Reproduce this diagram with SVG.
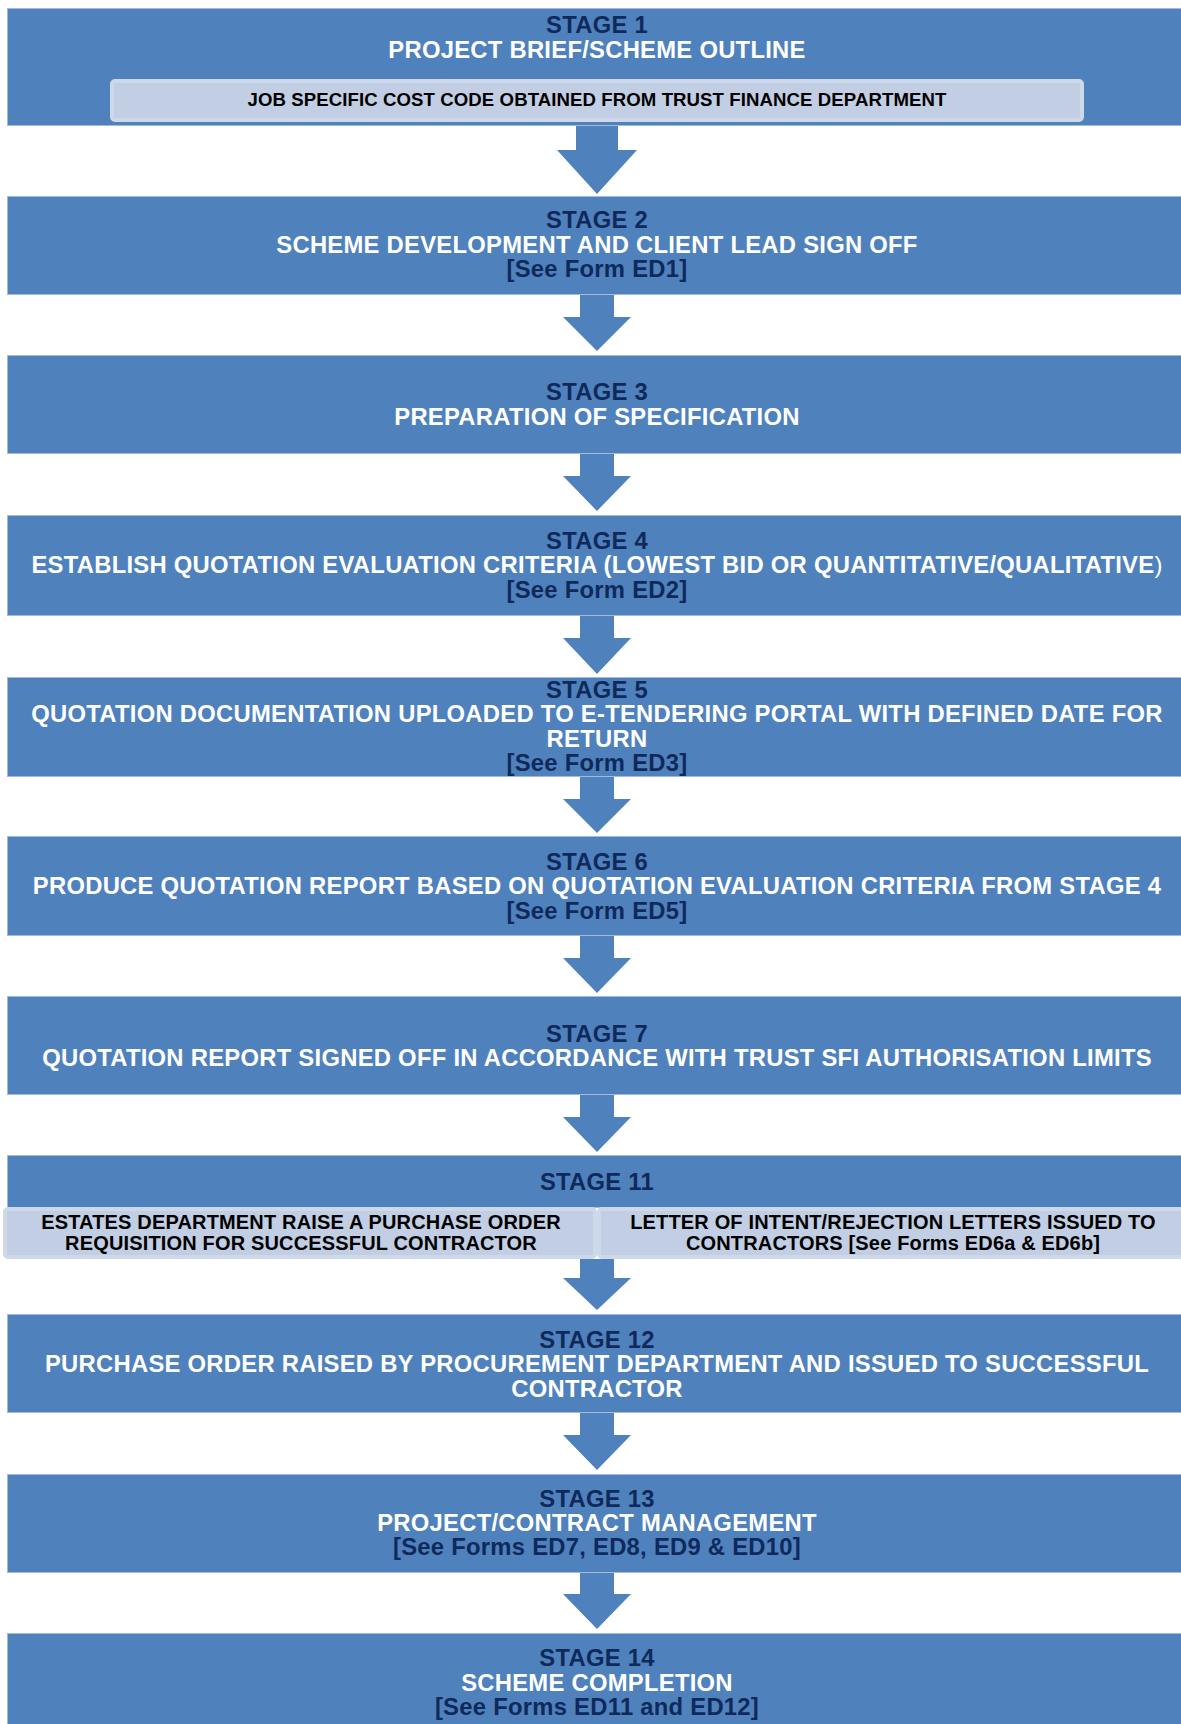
<svg xmlns="http://www.w3.org/2000/svg" width="1181" height="1724" viewBox="0 0 1181 1724">
<style>
.box{fill:#4F81BD;stroke:#A3BADB;stroke-width:1}
.sub{fill:#C1CEE3;stroke:#CDD8E9;stroke-width:4}
.arr{fill:#4F81BD}
text{font-family:"Liberation Sans",Arial,sans-serif;font-weight:bold;text-anchor:middle}
.hd{fill:#10295B;font-size:23.8px;letter-spacing:0.27px}
.wt{fill:#FFFFFF;font-size:23.8px;letter-spacing:0.27px}
.bk{fill:#000000;font-size:18.6px;letter-spacing:0.09px}
.bk2{fill:#000000;font-size:20px;letter-spacing:0.16px}
</style>
<rect width="1181" height="1724" fill="#FFFFFF"/>
<g id="connectors">
<polygon class="arr" points="576,125 618,125 618,150 637,150 597,194 557,150 576,150"/>
<polygon class="arr" points="580,294 614,294 614,317 631,317 597,351 563,317 580,317"/>
<polygon class="arr" points="580,453 614,453 614,476 631,476 597,511 563,476 580,476"/>
<polygon class="arr" points="580,615 614,615 614,638 631,638 597,674 563,638 580,638"/>
<polygon class="arr" points="580,776 614,776 614,799 631,799 597,833 563,799 580,799"/>
<polygon class="arr" points="580,935 614,935 614,958 631,958 597,993 563,958 580,958"/>
<polygon class="arr" points="580,1094 614,1094 614,1117 631,1117 597,1152 563,1117 580,1117"/>
<polygon class="arr" points="580,1259 614,1259 614,1278 631,1278 597,1310 563,1278 580,1278"/>
<polygon class="arr" points="580,1412 614,1412 614,1435 631,1435 597,1470 563,1435 580,1435"/>
<polygon class="arr" points="580,1572 614,1572 614,1594 631,1594 597,1629 563,1594 580,1594"/>
</g>
<g id="stage1">
<rect class="box" x="7.5" y="8.5" width="1180" height="117"/>
<text class="hd" x="597" y="33">STAGE 1</text>
<text class="wt" x="597" y="58">PROJECT BRIEF/SCHEME OUTLINE</text>
<rect class="sub" x="112" y="81" width="970" height="39" rx="3"/>
<text class="bk" x="597" y="106">JOB SPECIFIC COST CODE OBTAINED FROM TRUST FINANCE DEPARTMENT</text>
</g>
<g id="stage2">
<rect class="box" x="7.5" y="196.5" width="1180" height="98"/>
<text class="hd" x="597" y="228">STAGE 2</text>
<text class="wt" x="597" y="252.5">SCHEME DEVELOPMENT AND CLIENT LEAD SIGN OFF</text>
<text class="hd" x="597" y="277">[See Form ED1]</text>
</g>
<g id="stage3">
<rect class="box" x="7.5" y="355.5" width="1180" height="98"/>
<text class="hd" x="597" y="400">STAGE 3</text>
<text class="wt" x="597" y="425">PREPARATION OF SPECIFICATION</text>
</g>
<g id="stage4">
<rect class="box" x="7.5" y="515.5" width="1180" height="100"/>
<text class="hd" x="597" y="548.5">STAGE 4</text>
<text class="wt" x="597" y="573">ESTABLISH QUOTATION EVALUATION CRITERIA (LOWEST BID OR QUANTITATIVE/QUALITATIVE<tspan font-weight="normal">)</tspan></text>
<text class="hd" x="597" y="597.5">[See Form ED2]</text>
</g>
<g id="stage5">
<rect class="box" x="7.5" y="677.5" width="1180" height="99"/>
<text class="hd" x="597" y="697.5">STAGE 5</text>
<text class="wt" x="597" y="722">QUOTATION DOCUMENTATION UPLOADED TO E-TENDERING PORTAL WITH DEFINED DATE FOR</text>
<text class="wt" x="597" y="746.5">RETURN</text>
<text class="hd" x="597" y="771">[See Form ED3]</text>
</g>
<g id="stage6">
<rect class="box" x="7.5" y="836.5" width="1180" height="99"/>
<text class="hd" x="597" y="869.5">STAGE 6</text>
<text class="wt" x="597" y="894">PRODUCE QUOTATION REPORT BASED ON QUOTATION EVALUATION CRITERIA FROM STAGE 4</text>
<text class="hd" x="597" y="918.5">[See Form ED5]</text>
</g>
<g id="stage7">
<rect class="box" x="7.5" y="996.5" width="1180" height="98"/>
<text class="hd" x="597" y="1041.5">STAGE 7</text>
<text class="wt" x="597" y="1066">QUOTATION REPORT SIGNED OFF IN ACCORDANCE WITH TRUST SFI AUTHORISATION LIMITS</text>
</g>
<g id="stage11">
<rect class="box" x="7.5" y="1155.5" width="1180" height="52"/>
<text class="hd" x="597" y="1190">STAGE 11</text>
<rect class="sub" x="5" y="1209" width="590" height="48" rx="3"/>
<rect class="sub" x="599" y="1209" width="590" height="48" rx="3"/>
<text class="bk2" x="301" y="1229">ESTATES DEPARTMENT RAISE A PURCHASE ORDER</text>
<text class="bk2" x="301" y="1250">REQUISITION FOR SUCCESSFUL CONTRACTOR</text>
<text class="bk2" x="893" y="1229">LETTER OF INTENT/REJECTION LETTERS ISSUED TO</text>
<text class="bk2" x="893" y="1250">CONTRACTORS [See Forms ED6a &amp; ED6b]</text>
</g>
<g id="stage12">
<rect class="box" x="7.5" y="1314.5" width="1180" height="98"/>
<text class="hd" x="597" y="1347.5">STAGE 12</text>
<text class="wt" x="597" y="1372">PURCHASE ORDER RAISED BY PROCUREMENT DEPARTMENT AND ISSUED TO SUCCESSFUL</text>
<text class="wt" x="597" y="1396.5">CONTRACTOR</text>
</g>
<g id="stage13">
<rect class="box" x="7.5" y="1474.5" width="1180" height="98"/>
<text class="hd" x="597" y="1506.5">STAGE 13</text>
<text class="wt" x="597" y="1530.5">PROJECT/CONTRACT MANAGEMENT</text>
<text class="hd" x="597" y="1554.5">[See Forms ED7, ED8, ED9 &amp; ED10]</text>
</g>
<g id="stage14">
<rect class="box" x="7.5" y="1633.5" width="1180" height="100"/>
<text class="hd" x="597" y="1666">STAGE 14</text>
<text class="wt" x="597" y="1690.5">SCHEME COMPLETION</text>
<text class="hd" x="597" y="1715">[See Forms ED11 and ED12]</text>
</g>
</svg>
